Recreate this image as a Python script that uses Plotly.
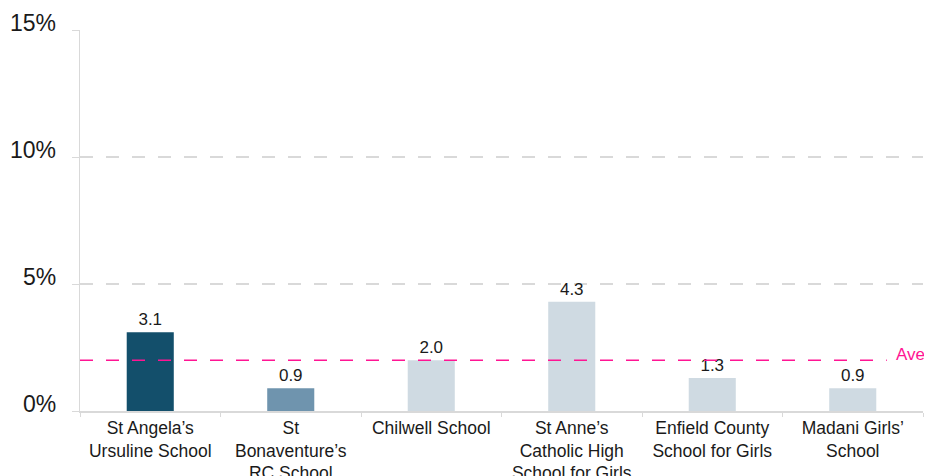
import plotly.graph_objects as go

categories = [
    "St Angela’s<br>Ursuline School",
    "St<br>Bonaventure’s<br>RC School",
    "Chilwell School",
    "St Anne’s<br>Catholic High<br>School for Girls",
    "Enfield County<br>School for Girls",
    "Madani Girls’<br>School",
]
values = [3.1, 0.9, 2.0, 4.3, 1.3, 0.9]
bar_colors = ["#134F6B", "#6F94AE", "#CFDAE2", "#CFDAE2", "#CFDAE2", "#CFDAE2"]
average = 2.0
average_label = "Ave."
y_ticks = [0, 5, 10, 15]
y_tick_labels = ["0%", "5%", "10%", "15%"]

FONT = "Liberation Sans, Arial, sans-serif"
GRID = "#D9D9D9"
PINK = "#FF1493"
TXT = "#1a1a1a"

fig = go.Figure()
fig.add_trace(go.Bar(
    x=categories,
    y=values,
    marker=dict(color=bar_colors, line=dict(width=0)),
    text=[f"{v:.1f}" for v in values],
    textposition="outside",
    textfont=dict(family=FONT, size=17, color=TXT),
    cliponaxis=False,
    hoverinfo="skip",
))

fig.add_shape(
    type="line", xref="paper", yref="y",
    x0=0, x1=0.957, y0=average, y1=average,
    line=dict(color=PINK, width=1.5, dash="13px,13px"),
    layer="above",
)
fig.add_annotation(
    xref="paper", yref="y", x=0.966, y=average,
    text=average_label, showarrow=False,
    xanchor="left", yanchor="middle", yshift=6,
    font=dict(family=FONT, size=17, color=PINK),
)

# y tick labels, placed just above their gridlines as in the reference
for v, lab in zip(y_ticks, y_tick_labels):
    fig.add_annotation(
        xref="paper", yref="y", x=0, y=v,
        text=lab, showarrow=False,
        xanchor="right", yanchor="middle", xshift=-22, yshift=7,
        font=dict(family=FONT, size=23, color=TXT),
    )

fig.update_layout(
    width=924, height=468,
    margin=dict(l=72, r=9, t=22, b=65, autoexpand=False),
    paper_bgcolor="white", plot_bgcolor="white",
    bargap=0.665,
    showlegend=False,
    font=dict(family=FONT, color=TXT),
    xaxis=dict(
        type="category", automargin=False,
        showline=True, linecolor=GRID, linewidth=1.5,
        ticks="outside", tickson="boundaries", ticklen=4, tickcolor=GRID,
        ticklabelstandoff=0,
        tickfont=dict(family=FONT, size=17.5, color=TXT),
        showgrid=False,
    ),
    yaxis=dict(
        range=[0, 15], automargin=False,
        tickvals=y_ticks, showticklabels=False,
        ticks="outside", ticklen=7, tickcolor=GRID,
        showline=True, linecolor=GRID, linewidth=1,
        showgrid=True, gridcolor=GRID, gridwidth=1.5, griddash="13px,13px",
        zeroline=False,
    ),
)

fig.write_html("out.html")
